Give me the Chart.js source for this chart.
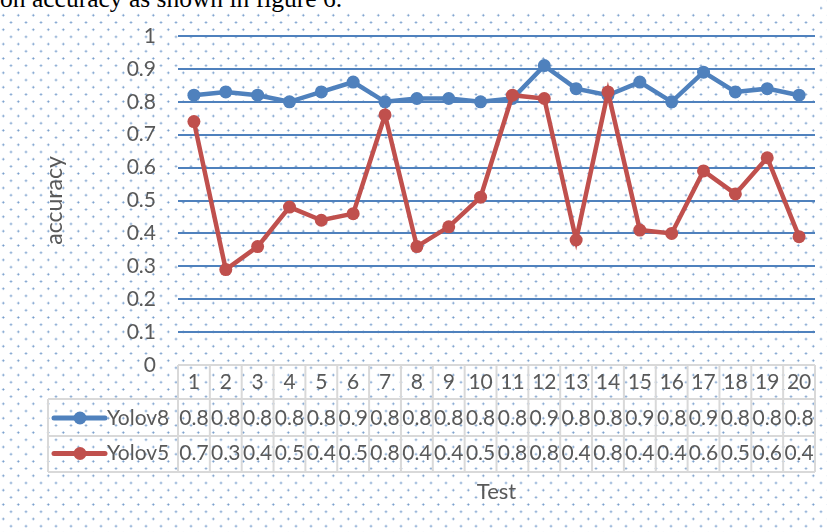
<!DOCTYPE html>
<html lang="en">
<head>
  <meta charset="UTF-8">
  <title>Yolov8 vs Yolov5 accuracy</title>
  <script src="https://cdn.jsdelivr.net/npm/chart.js@4.4.0/dist/chart.umd.min.js"></script>
  <style>
    html, body {
      margin: 0;
      padding: 0;
    }
    body {
      width: 827px;
      height: 532px;
      overflow: hidden;
      position: relative;
      background-color: #fff;
      background-image:
        radial-gradient(circle, rgba(79,129,189,0.85) 0.7px, rgba(79,129,189,0) 1.4px),
        radial-gradient(circle, rgba(79,129,189,0.85) 0.7px, rgba(79,129,189,0) 1.4px);
      background-size: 15px 14.4px;
      background-position: -4.2px -6.3px, 3.5px 0.9px;
    }
    .caption {
      position: absolute;
      left: -7px;
      top: -14.4px;
      height: 26.4px;
      width: 827px;
      background: #fff;
      overflow: hidden;
      font-family: "Liberation Serif", serif;
      font-size: 25.5px;
      line-height: 25.5px;
      white-space: nowrap;
      color: #000;
    }
    #chartBox {
      position: absolute;
      left: 0;
      top: 0;
      width: 827px;
      height: 532px;
    }
  </style>
</head>
<body>
  <div class="caption">ion accuracy as shown in figure 6.</div>
  <div id="chartBox"><canvas id="accChart" width="827" height="532"></canvas></div>

  <script>
    const tests = ['1', '2', '3', '4', '5', '6', '7', '8', '9', '10',
                   '11', '12', '13', '14', '15', '16', '17', '18', '19', '20'];
    const yolov8 = [0.82, 0.83, 0.82, 0.80, 0.83, 0.86, 0.80, 0.81, 0.81, 0.80,
                    0.81, 0.91, 0.84, 0.82, 0.86, 0.80, 0.89, 0.83, 0.84, 0.82];
    const yolov5 = [0.74, 0.29, 0.36, 0.48, 0.44, 0.46, 0.76, 0.36, 0.42, 0.51,
                    0.82, 0.81, 0.38, 0.83, 0.41, 0.40, 0.59, 0.52, 0.63, 0.39];
    const yTicks = [0, 0.1, 0.2, 0.3, 0.4, 0.5, 0.6, 0.7, 0.8, 0.9, 1];

    const BLUE = '#4F81BD';
    const RED = '#C0504D';
    const TEXT = '#595959';
    const FONT = 'Lato';

    // Excel-style data table under the plot (header row + one row per series)
    const dataTable = {
      id: 'dataTable',
      afterDraw(chart) {
        const ctx = chart.ctx;
        const a = chart.chartArea;
        const n = tests.length;
        const colW = (a.right - a.left) / n;
        const legendLeft = 48;
        const rowLines = [a.bottom, 399, 436, 472];
        const rows = [
          { name: 'Yolov8', values: yolov8, color: BLUE, mid: 418 },
          { name: 'Yolov5', values: yolov5, color: RED, mid: 453.5 }
        ];

        ctx.save();
        ctx.strokeStyle = '#d9d9d9';
        ctx.lineWidth = 2;
        ctx.beginPath();
        ctx.moveTo(a.left, rowLines[0]);
        ctx.lineTo(a.right, rowLines[0]);
        for (let i = 1; i < rowLines.length; i++) {
          ctx.moveTo(legendLeft, rowLines[i]);
          ctx.lineTo(a.right, rowLines[i]);
        }
        ctx.moveTo(legendLeft, rowLines[1]);
        ctx.lineTo(legendLeft, rowLines[3]);
        for (let k = 0; k <= n; k++) {
          const x = a.left + k * colW;
          ctx.moveTo(x, rowLines[0]);
          ctx.lineTo(x, rowLines[3]);
        }
        ctx.stroke();

        ctx.fillStyle = TEXT;
        ctx.font = '21px ' + FONT;
        ctx.textAlign = 'center';
        ctx.textBaseline = 'middle';
        const xScale = chart.scales.x;
        tests.forEach((t, i) => {
          const x = xScale.getPixelForValue(i);
          ctx.fillText(t, x, 382.5);
          rows.forEach(r => ctx.fillText(r.values[i].toFixed(1), x, r.mid));
        });

        rows.forEach(r => {
          ctx.strokeStyle = r.color;
          ctx.lineWidth = 5;
          ctx.lineCap = 'round';
          ctx.beginPath();
          ctx.moveTo(54, r.mid);
          ctx.lineTo(105, r.mid);
          ctx.stroke();
          ctx.fillStyle = r.color;
          ctx.beginPath();
          ctx.arc(80, r.mid, 6.5, 0, Math.PI * 2);
          ctx.fill();
          ctx.fillStyle = TEXT;
          ctx.textAlign = 'left';
          ctx.fillText(r.name, 107, r.mid);
        });

        ctx.textAlign = 'center';
        ctx.font = '22px ' + FONT;
        ctx.fillText('Test', (a.left + a.right) / 2, 492);
        ctx.restore();
      }
    };

    new Chart(document.getElementById('accChart'), {
      type: 'line',
      data: {
        labels: tests,
        datasets: [
          {
            label: 'Yolov8',
            data: yolov8,
            borderColor: BLUE,
            backgroundColor: BLUE,
            borderWidth: 4.5,
            pointRadius: 6.5,
            pointBorderWidth: 0,
            pointBackgroundColor: BLUE,
            order: 1
          },
          {
            label: 'Yolov5',
            data: yolov5,
            borderColor: RED,
            backgroundColor: RED,
            borderWidth: 4.5,
            pointRadius: 6.5,
            pointBorderWidth: 0,
            pointBackgroundColor: RED,
            order: 0
          }
        ]
      },
      options: {
        responsive: false,
        animation: false,
        layout: { padding: { top: 36, right: 12, bottom: 167, left: 0 } },
        plugins: {
          legend: { display: false },
          tooltip: { enabled: false }
        },
        scales: {
          x: {
            type: 'category',
            display: false,
            offset: true
          },
          y: {
            min: 0,
            max: 1,
            afterBuildTicks: s => { s.ticks = yTicks.map(v => ({ value: v })); },
            afterFit: s => { s.width = 178; },
            border: { display: false },
            grid: {
              color: c => (c.tick && c.tick.value === 0) ? 'rgba(0,0,0,0)' : BLUE,
              lineWidth: 2,
              drawTicks: false
            },
            ticks: {
              color: TEXT,
              font: { family: FONT, size: 21 },
              padding: 22,
              callback: v => String(v)
            },
            title: {
              display: true,
              text: 'accuracy',
              color: TEXT,
              font: { family: FONT, size: 23 },
              padding: { top: 41, bottom: 0 }
            }
          }
        }
      },
      plugins: [dataTable]
    });
  </script>
</body>
</html>
